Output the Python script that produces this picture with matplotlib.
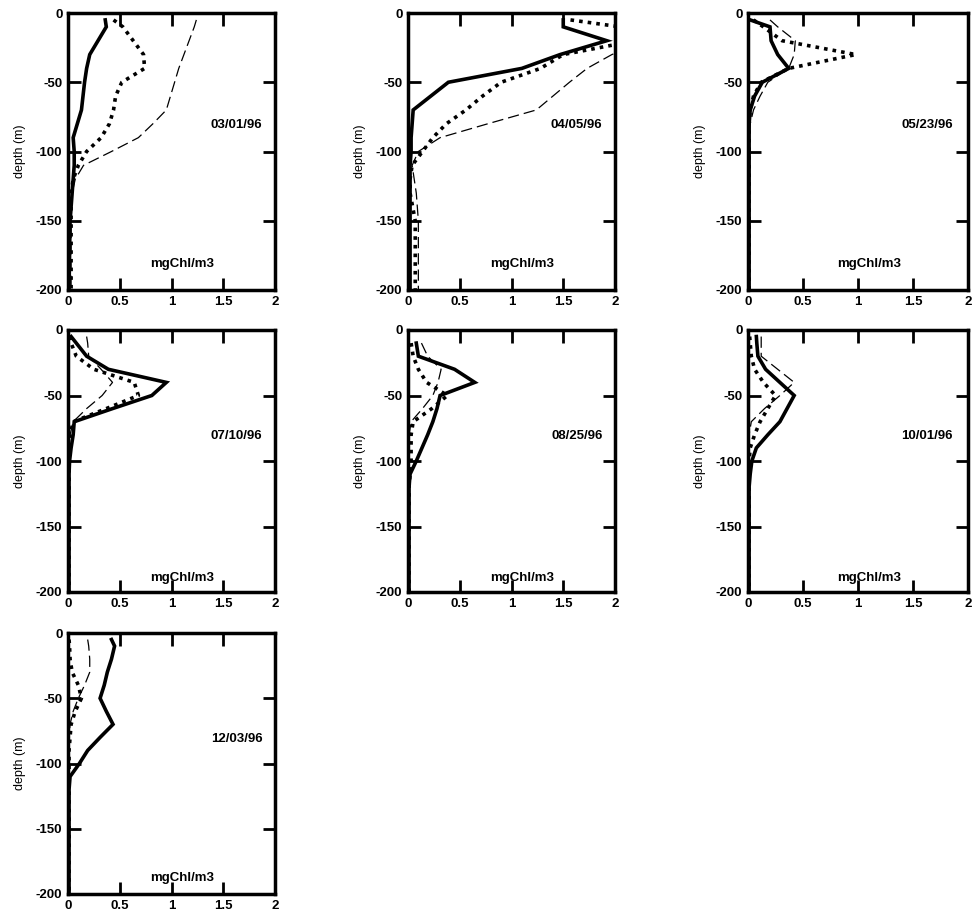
import numpy as np
import matplotlib
matplotlib.use('Agg')
import matplotlib.pyplot as plt

plt.rcParams['font.family'] = ['Liberation Sans', 'DejaVu Sans']
plt.rcParams['axes.unicode_minus'] = False

nan = np.nan

# sampling depths (m), shared by every profile
depth = [-5, -10, -20, -30, -40, -50, -60, -70, -80, -90, -100, -110, -120, -130, -150, -200]

dates = ['03/01/96', '04/05/96', '05/23/96', '07/10/96', '08/25/96', '10/01/96', '12/03/96']

# chlorophyll (mgChl/m3), three profiles per date
solid_0301 = [0.36, 0.37, 0.29, 0.21, 0.18, 0.16, 0.145, 0.13, 0.09, 0.05, 0.06, 0.06, 0.05, 0.04, 0.02, 0.01]
dot_0301 = [0.44, 0.53, 0.63, 0.73, 0.74, 0.52, 0.46, 0.44, 0.40, 0.32, 0.18, 0.10, 0.05, 0.03, 0.03, 0.03]
dash_0301 = [1.24, 1.22, 1.17, 1.12, 1.07, 1.03, 0.99, 0.95, 0.82, 0.68, 0.42, 0.15, 0.07, 0.04, 0.03, 0.03]

solid_0405 = [1.50, 1.50, 1.92, 1.47, 1.10, 0.39, 0.22, 0.05, 0.04, 0.03, 0.03, 0.02, 0.02, 0.02, 0.02, 0.02]
dot_0405 = [1.57, 2.05, 2.20, 1.50, 1.28, 0.90, 0.72, 0.56, 0.37, 0.24, 0.14, 0.04, 0.02, 0.02, 0.07, 0.07]
dash_0405 = [2.50, 2.40, 2.30, 1.97, 1.73, 1.56, 1.40, 1.24, 0.77, 0.31, 0.10, 0.04, 0.06, 0.08, 0.10, 0.10]

solid_0523 = [0.02, 0.20, 0.21, 0.27, 0.37, 0.13, 0.06, 0.02, 0.01, 0.01, 0.01, 0.01, 0.01, 0.01, 0.01, 0.01]
dot_0523 = [0.05, 0.14, 0.31, 0.98, 0.37, 0.12, 0.05, 0.02, 0.01, 0.01, 0.01, 0.01, 0.01, 0.01, 0.01, 0.01]
dash_0523 = [0.20, 0.27, 0.43, 0.42, 0.37, 0.18, 0.11, 0.05, 0.02, 0.01, 0.01, 0.01, 0.01, 0.01, 0.01, 0.01]

solid_0710 = [0.03, 0.08, 0.18, 0.39, 0.95, 0.81, 0.43, 0.06, 0.05, 0.03, 0.015, 0.01, 0.01, 0.01, 0.01, 0.01]
dot_0710 = [0.02, 0.03, 0.08, 0.25, 0.64, 0.68, 0.37, 0.05, 0.02, 0.01, 0.01, 0.01, 0.01, 0.01, 0.01, 0.01]
dash_0710 = [0.18, 0.19, 0.20, 0.32, 0.43, 0.33, 0.18, 0.05, 0.02, 0.01, 0.01, 0.01, 0.01, 0.01, 0.01, 0.01]

solid_0825 = [nan, 0.08, 0.10, 0.45, 0.645, 0.31, 0.28, 0.24, 0.19, 0.135, 0.08, 0.02, 0.01, 0.01, 0.01, 0.01]
dot_0825 = [nan, 0.03, 0.05, 0.10, 0.18, 0.38, 0.23, 0.05, 0.03, 0.03, 0.03, 0.02, 0.01, 0.01, 0.01, 0.01]
dash_0825 = [nan, 0.13, 0.19, 0.32, 0.29, 0.24, 0.14, 0.03, 0.01, 0.01, 0.01, 0.01, 0.01, 0.01, 0.01, 0.01]

solid_1001 = [0.076, 0.08, 0.09, 0.16, 0.29, 0.42, 0.355, 0.29, 0.18, 0.076, 0.035, 0.02, 0.01, 0.01, 0.01, 0.01]
dot_1001 = [0.015, 0.02, 0.03, 0.06, 0.14, 0.25, 0.18, 0.11, 0.06, 0.02, 0.01, 0.01, 0.01, 0.01, 0.01, 0.01]
dash_1001 = [0.12, 0.12, 0.12, 0.27, 0.42, 0.29, 0.15, 0.03, 0.01, 0.01, 0.01, 0.01, 0.01, 0.01, 0.01, 0.01]

solid_1203 = [0.42, 0.45, 0.42, 0.38, 0.35, 0.31, 0.37, 0.435, 0.31, 0.19, 0.11, 0.02, 0.01, 0.01, 0.01, 0.01]
dot_1203 = [0.01, 0.015, 0.02, 0.04, 0.10, 0.13, 0.07, 0.03, 0.02, 0.01, 0.01, 0.01, 0.01, 0.01, 0.01, 0.01]
dash_1203 = [0.19, 0.20, 0.21, 0.21, 0.16, 0.10, 0.05, 0.02, 0.01, 0.01, 0.01, 0.01, 0.01, 0.01, 0.01, 0.01]

solid = [solid_0301, solid_0405, solid_0523, solid_0710, solid_0825, solid_1001, solid_1203]
dotted = [dot_0301, dot_0405, dot_0523, dot_0710, dot_0825, dot_1001, dot_1203]
dashed = [dash_0301, dash_0405, dash_0523, dash_0710, dash_0825, dash_1001, dash_1203]

x_ticks = [0, 0.5, 1, 1.5, 2]
x_labels = ['0', '0.5', '1', '1.5', '2']
y_ticks = [0, -50, -100, -150, -200]
y_labels = ['0', '-50', '-100', '-150', '-200']

# axes boxes in figure fraction [left, bottom, width, height]
W, H = 976, 915
boxes = [
    [68, 13, 207, 277], [408, 13, 207, 277], [748, 13, 220, 277],
    [68, 330, 207, 262], [408, 330, 207, 262], [748, 330, 220, 262],
    [68, 633, 207, 261],
]
unit_y = [-181, -181, -181, -189, -189, -189, -188]

fig = plt.figure(figsize=(W / 100, H / 100), dpi=100)

for i in range(7):
    l, t, w, h = boxes[i]
    ax = fig.add_axes([l / W, 1 - (t + h) / H, w / W, h / H])

    ax.plot(dashed[i], depth, color='black', lw=0.9, linestyle=(0, (9, 4)))
    ax.plot(dotted[i], depth, color='black', lw=2.6, linestyle=(0, (1, 1.4)),
            dash_capstyle='butt')
    ax.plot(solid[i], depth, color='black', lw=2.6, solid_joinstyle='miter')

    ax.set_xlim(0, 2)
    ax.set_ylim(-200, 0)
    ax.set_xticks(x_ticks)
    ax.set_xticklabels(x_labels)
    ax.set_yticks(y_ticks)
    ax.set_yticklabels(y_labels)
    ax.tick_params(direction='in', length=9, width=2, top=True, right=True,
                   labelsize=9.5, pad=4)
    for lab in ax.get_xticklabels() + ax.get_yticklabels():
        lab.set_fontweight('bold')
    for sp in ax.spines.values():
        sp.set_linewidth(2.5)

    ax.set_ylabel('depth (m)', fontsize=9, labelpad=7)
    ax.text(1.63, -81, dates[i], ha='center', va='center', fontsize=9.5, fontweight='bold')
    ax.text(1.10, unit_y[i], 'mgChl/m3', ha='center', va='center', fontsize=9.5, fontweight='bold')

fig.savefig('out.png', dpi=100)
